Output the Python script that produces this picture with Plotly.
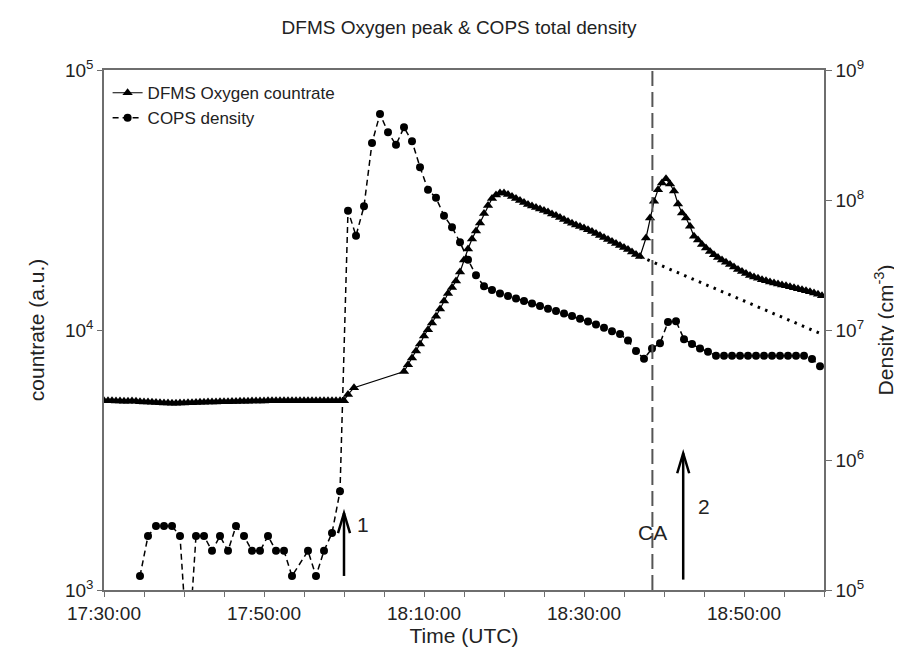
import numpy as np
import pandas as pd
import plotly.graph_objects as go

BASE = pd.Timestamp("2015-02-14 17:30:00")

# ---- DFMS oxygen countrate (left axis), times in minutes after 17:30 ----
dfms_minutes = (list(np.arange(0, 30.01, 0.5)) + [30.5, 31.25]
                + list(np.arange(37.5, 67.01, 0.5))
                + list(np.arange(67.75, 89.76, 0.5)))
dfms_countrate = [
    5350, 5340, 5340, 5330, 5330, 5320, 5320, 5330, 5320, 5300,
    5290, 5280, 5270, 5260, 5250, 5240, 5240, 5230, 5230, 5240,
    5240, 5250, 5250, 5260, 5270, 5270, 5280, 5290, 5290, 5300,
    5300, 5300, 5310, 5310, 5320, 5320, 5320, 5330, 5330, 5330,
    5330, 5340, 5340, 5340, 5340, 5340, 5340, 5340, 5350, 5350,
    5350, 5350, 5350, 5350, 5350, 5350, 5350, 5350, 5350, 5350, 5350,
    5650, 6000,
    6925, 7355, 7804, 8302, 8837, 9483, 10027, 10640, 11290, 12040,
    12930, 13810, 14570, 15430, 16720, 18590, 20490, 22390, 24030, 25790,
    28060, 30120, 32050, 33060, 33650, 33650, 33210, 32630, 32050, 31480,
    30930, 30390, 29990, 29590, 29200, 28810, 28430, 27930, 27560, 27080,
    26610, 26140, 25720, 25330, 25000, 24670, 24300, 23920, 23500, 23090,
    22680, 22280, 21890, 21510, 21130, 20760, 20390, 19950, 19520, 19170,
    22590, 26970, 31260, 34640, 36760, 38190, 36430, 34240, 30520, 28180,
    26970, 25050, 22930, 22190, 21330, 20670, 20040, 19480, 19000, 18590,
    18230, 17860, 17470, 17090, 16790, 16490, 16220, 16000, 15810, 15620,
    15460, 15310, 15160, 15030, 14900, 14790, 14660, 14530, 14400, 14290,
    14160, 14040, 13870, 13720, 13530,
]

# extrapolated decay (dotted)
extrap_minutes = [67.0, 90.0]
extrap_countrate = [19170, 9560]

# ---- COPS total density (right axis) ----
cops_minutes = ([4.5, 5.5, 6.5, 7.5, 8.5, 9.5, 10.5, 11.5, 12.5, 13.5, 14.5, 15.5,
                 16.5, 17.5, 18.5, 19.5, 20.5, 21.5, 22.5, 23.5, 25.5, 26.5, 27.5,
                 28.5, 29.5] + list(np.arange(30.5, 89.51, 1.0)))
cops_density = [
    1.28e5, 2.6e5, 3.1e5, 3.1e5, 3.1e5, 2.6e5, 3.0e4, 2.6e5, 2.6e5, 2.0e5, 2.6e5, 2.0e5,
    3.1e5, 2.6e5, 2.0e5, 2.0e5, 2.6e5, 2.0e5, 2.0e5, 1.28e5, 2.0e5, 1.28e5, 2.0e5,
    2.74e5, 5.74e5,
    8.28e7, 5.31e7, 8.95e7, 2.74e8, 4.59e8, 3.32e8, 2.66e8, 3.62e8, 2.83e8, 1.79e8,
    1.20e8, 1.04e8, 7.57e7, 6.17e7, 4.73e7, 3.47e7, 2.64e7, 2.17e7, 2.03e7, 1.91e7,
    1.83e7, 1.75e7, 1.67e7, 1.60e7, 1.53e7, 1.46e7, 1.40e7, 1.34e7, 1.28e7, 1.22e7,
    1.16e7, 1.10e7, 1.04e7, 9.8e6, 9.3e6, 8.3e6, 6.9e6, 6.0e6, 7.2e6, 7.9e6,
    1.15e7, 1.17e7, 8.5e6, 7.8e6, 7.2e6, 6.8e6, 6.35e6, 6.35e6, 6.35e6, 6.35e6,
    6.35e6, 6.35e6, 6.35e6, 6.35e6, 6.35e6, 6.35e6, 6.35e6, 6.35e6, 5.98e6, 5.26e6,
]

# ---- events ----
ca_minute = 68.55
arrow1_minute = 30.0
arrow2_minute = 72.4
label1_minute = 32.4
label2_minute = 75.0

left_ticks = [1e3, 1e4, 1e5]
left_ticktext = ["10<sup>3</sup>", "10<sup>4</sup>", "10<sup>5</sup>"]
right_ticks = [1e5, 1e6, 1e7, 1e8, 1e9]
right_ticktext = ["10<sup>5</sup>", "10<sup>6</sup>", "10<sup>7</sup>", "10<sup>8</sup>", "10<sup>9</sup>"]


def tt(mins):
    return [BASE + pd.Timedelta(minutes=float(m)) for m in mins]


def t1(m):
    return (BASE + pd.Timedelta(minutes=float(m))).strftime("%Y-%m-%d %H:%M:%S")


FONT = "Liberation Sans, Arial, sans-serif"
AXC = "#6e6e6e"

fig = go.Figure()
fig.add_trace(go.Scatter(
    x=tt(dfms_minutes), y=dfms_countrate, name="DFMS Oxygen countrate",
    mode="lines+markers", line=dict(color="black", width=1.2),
    marker=dict(symbol="triangle-up", size=9, color="black"), yaxis="y"))
fig.add_trace(go.Scatter(
    x=tt(cops_minutes), y=cops_density, name="COPS density",
    mode="lines+markers", line=dict(color="black", width=1.5, dash="6px,4px"),
    marker=dict(symbol="circle", size=8, color="black"), yaxis="y2"))
fig.add_trace(go.Scatter(
    x=tt(extrap_minutes), y=extrap_countrate, mode="lines", showlegend=False,
    line=dict(color="black", width=3, dash="2.5px,5.5px"), yaxis="y"))

shapes = [
    dict(type="line", xref="x", yref="paper", x0=t1(ca_minute), x1=t1(ca_minute), y0=0, y1=1,
         line=dict(color="#555555", width=2, dash="15px,6px")),
    dict(type="line", xref="x", yref="paper", x0=t1(arrow1_minute), x1=t1(arrow1_minute),
         y0=0.027, y1=0.148, line=dict(color="black", width=2.5)),
    dict(type="path", xref="x", yref="paper", xsizemode="pixel", ysizemode="pixel",
         xanchor=t1(arrow1_minute), yanchor=0.148, path="M -6,-20 L 0,0 L 6,-20",
         line=dict(color="black", width=2.5)),
    dict(type="line", xref="x", yref="paper", x0=t1(arrow2_minute), x1=t1(arrow2_minute),
         y0=0.02, y1=0.263, line=dict(color="black", width=2.5)),
    dict(type="path", xref="x", yref="paper", xsizemode="pixel", ysizemode="pixel",
         xanchor=t1(arrow2_minute), yanchor=0.263, path="M -6,-20 L 0,0 L 6,-20",
         line=dict(color="black", width=2.5)),
]

annotations = [
    dict(text="1", x=t1(label1_minute), y=0.10, xref="x", yref="paper", showarrow=False,
         font=dict(size=21, color="#222", family=FONT)),
    dict(text="2", x=t1(label2_minute), y=0.135, xref="x", yref="paper", showarrow=False,
         font=dict(size=21, color="#222", family=FONT)),
    dict(text="CA", x=t1(ca_minute), y=0.085, xref="x", yref="paper", showarrow=False,
         font=dict(size=21, color="#222", family=FONT)),
]

fig.update_layout(
    width=902, height=652,
    margin=dict(l=96, r=86, t=62, b=70),
    paper_bgcolor="white", plot_bgcolor="white",
    font=dict(family=FONT, color="#222", size=19),
    title=dict(text="DFMS Oxygen peak & COPS total density", x=0.5, xanchor="center",
               y=0.97, yanchor="middle", font=dict(size=19, family=FONT, color="#222")),
    xaxis=dict(type="date", range=[t1(0), t1(90)], tick0=t1(0), dtick=20 * 60 * 1000,
               tickformat="%H:%M:%S", ticks="outside", ticklen=5, tickcolor=AXC,
               showline=True, linecolor=AXC, linewidth=1.5, mirror=True, showgrid=False,
               zeroline=False, minor=dict(dtick=5 * 60 * 1000, ticks="outside", ticklen=5, tickcolor=AXC),
               title=dict(text="Time (UTC)", font=dict(size=21), standoff=6),
               tickfont=dict(size=19)),
    yaxis=dict(type="log", range=[3, 5], tickvals=left_ticks, ticktext=left_ticktext,
               ticks="outside", ticklen=5, tickcolor=AXC, showline=True, linecolor=AXC,
               linewidth=1.5, showgrid=False, zeroline=False,
               title=dict(text="countrate (a.u.)", font=dict(size=21)),
               tickfont=dict(size=19)),
    yaxis2=dict(type="log", range=[5, 9], tickvals=right_ticks, ticktext=right_ticktext,
                overlaying="y", side="right", ticks="outside", ticklen=6, tickcolor=AXC,
                showline=True, linecolor=AXC, linewidth=1.5, showgrid=False, zeroline=False,
                title=dict(text="Density (cm<sup>-3</sup>)", font=dict(size=21)),
                tickfont=dict(size=19)),
    legend=dict(x=0.005, y=0.99, xanchor="left", yanchor="top", bgcolor="rgba(0,0,0,0)",
                font=dict(size=17, family=FONT, color="#222"), tracegroupgap=0),
    shapes=shapes, annotations=annotations, showlegend=True,
)

fig.write_html("out.html")
